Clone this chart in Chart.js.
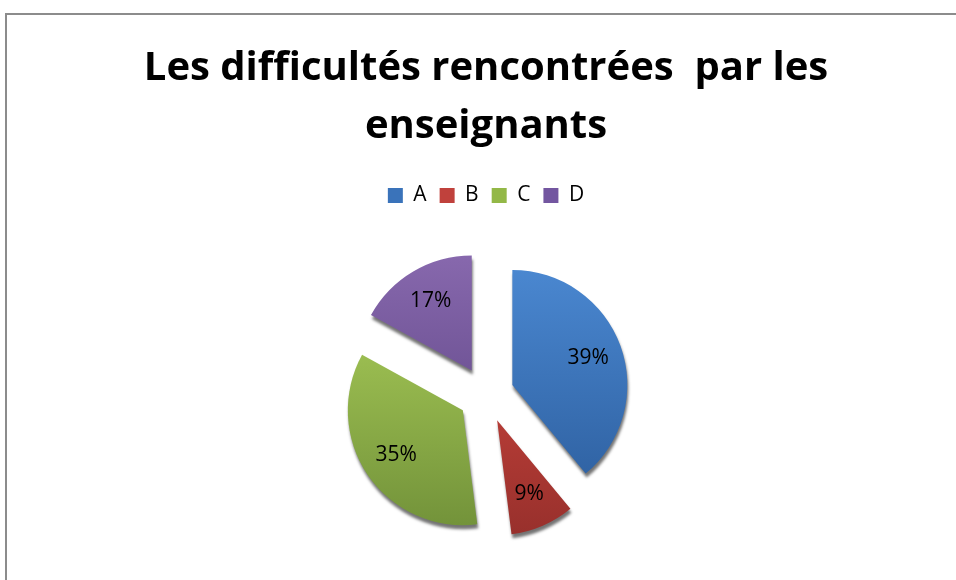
<!DOCTYPE html>
<html>
<head>
<meta charset="utf-8">
<script src="https://cdn.jsdelivr.net/npm/chart.js@4"></script>
<style>
    body { margin: 0; background: #fff; }
    #wrap { position: relative; width: 956px; height: 580px; overflow: hidden; }
    #frame { position: absolute; left: 5px; top: 13px; width: 1000px; height: 700px;
        border-left: 2px solid #8c8c8c; border-top: 2px solid #8c8c8c; }
    #myChart { position: absolute; left: 0; top: 0; }
</style>
</head>
<body>
<div id="wrap">
    <div id="frame"></div>
    <canvas id="myChart" width="956" height="580"></canvas>
</div>
<script>
// data
const categories = ["A", "B", "C", "D"];
const percents = [39, 9, 35, 17];
const titleLines = ["Les difficultés rencontrées  par les", "enseignants"];

// light / dark shade per slice (top -> bottom)
const shades = [
    ["#4a87d0", "#2d5f9f"],
    ["#d1473f", "#98302c"],
    ["#a8cb58", "#73933a"],
    ["#8768ad", "#5c4383"],
];
const legendColors = ["#3a73ba", "#c0413c", "#93b847", "#7356a0"];

const explode = 28;
const pieRadius = 115;

function sliceFill(ctx) {
    const chart = ctx.chart;
    const area = chart.chartArea;
    const i = ctx.dataIndex;
    if (!area || i === undefined) return legendColors[i] || "#888";
    const cy = (area.top + area.bottom) / 2;
    const g = chart.ctx.createLinearGradient(0, cy - pieRadius, 0, cy + pieRadius);
    g.addColorStop(0, shades[i][0]);
    g.addColorStop(1, shades[i][1]);
    return g;
}

// pull each slice out from the centre, with a shadow for the 3D look
const explodePlugin = {
    id: "explode",
    beforeDatasetDraw(chart, args) {
        const ctx = chart.ctx;
        args.meta.data.forEach(arc => {
            const p = arc.getProps(["startAngle", "endAngle"], true);
            const mid = (p.startAngle + p.endAngle) / 2;
            ctx.save();
            ctx.shadowColor = "rgba(0,0,0,0.55)";
            ctx.shadowBlur = 3;
            ctx.shadowOffsetX = 1;
            ctx.shadowOffsetY = 4;
            ctx.translate(Math.cos(mid) * explode, Math.sin(mid) * explode);
            arc.draw(ctx, chart.chartArea);
            ctx.restore();
        });
        return false;
    },
    afterDatasetsDraw(chart) {
        const ctx = chart.ctx;
        const meta = chart.getDatasetMeta(0);
        ctx.save();
        ctx.fillStyle = "#000";
        ctx.font = "21px 'Open Sans'";
        ctx.textAlign = "center";
        ctx.textBaseline = "middle";
        meta.data.forEach((arc, i) => {
            const p = arc.getProps(["x", "y", "startAngle", "endAngle", "outerRadius"], true);
            const mid = (p.startAngle + p.endAngle) / 2;
            const d = explode + p.outerRadius * 0.7;
            ctx.fillText(percents[i] + "%", p.x + Math.cos(mid) * d, p.y + Math.sin(mid) * d);
        });
        ctx.restore();
    }
};

const myChart = new Chart("myChart", {
    type: "pie",
    data: {
        labels: categories,
        datasets: [
            {
                data: percents,
                backgroundColor: sliceFill,
                borderWidth: 0,
                radius: pieRadius,
            },
        ],
    },
    options: {
        responsive: false,
        animation: false,
        layout: {
            padding: { left: 16, right: 0, top: 0, bottom: 7 },
        },
        plugins: {
            title: {
                display: true,
                text: titleLines,
                color: "#000",
                font: { family: "'Open Sans'", size: 40, weight: "bold", lineHeight: 1.45 },
                padding: { top: 40, bottom: 16 },
            },
            legend: {
                position: "top",
                labels: {
                    color: "#000",
                    font: { family: "'Open Sans'", size: 21 },
                    boxWidth: 15,
                    boxHeight: 15,
                    padding: 13,
                    generateLabels: chart => categories.map((c, i) => ({
                        text: c,
                        fillStyle: legendColors[i],
                        strokeStyle: legendColors[i],
                        lineWidth: 0,
                        hidden: false,
                        index: i,
                    })),
                },
            },
            tooltip: { enabled: false },
        },
    },
    plugins: [explodePlugin],
});
</script>
</body>
</html>
